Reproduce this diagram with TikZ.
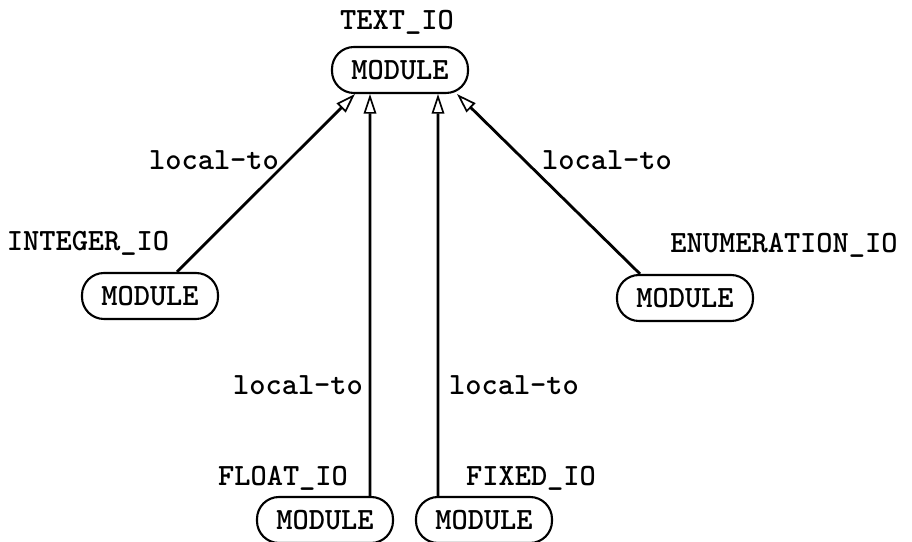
\documentclass[tikz,border=0pt]{standalone}
\usepackage{tikz}
\usetikzlibrary{positioning}
\usetikzlibrary{arrows.meta}

\begin{document}
\begin{tikzpicture}[
  modulo/.style={draw, line width=1.5pt, rounded corners=0.55cm, minimum width=3.4cm, minimum height=1.15cm, inner sep=0pt},
  texto/.style={font=\fontsize{22}{26}\selectfont\ttfamily\bfseries, inner sep=1pt},
  enlace/.style={line width=2pt, -{Triangle[open, length=14pt, width=9pt, line width=1.2pt]}}
]
  \useasboundingbox (0,0) rectangle (22.8,13.55);

  % Módulos
  \node[modulo, texto] (textio) at (10,11.8) {MODULE};
  \node[modulo, texto] (intio) at (3.75,6.15) {MODULE};
  \node[modulo, texto] (enumio) at (17.125,6.1) {MODULE};
  \node[modulo, texto] (floatio) at (8.125,0.55) {MODULE};
  \node[modulo, texto] (fixedio) at (12.1,0.55) {MODULE};

  % Nombres
  \node[texto] (textioname) at (9.925,13.0) {TEXT\_IO};
  \node[texto] (intioname) at (2.2,7.475) {INTEGER\_IO};
  \node[texto] (enumioname) at (19.6,7.425) {ENUMERATION\_IO};
  \node[texto] (floationame) at (7.075,1.6) {FLOAT\_IO};
  \node[texto] (fixedioname) at (13.275,1.6) {FIXED\_IO};

  % Relaciones
  \draw[enlace] ([xshift=0.675cm]intio.north) -- ([xshift=-1.125cm]textio.south);
  \draw[enlace] ([xshift=1.125cm]floatio.north) -- ([xshift=-0.75cm]textio.south);
  \draw[enlace] ([xshift=-1.15cm]fixedio.north) -- ([xshift=0.95cm]textio.south);
  \draw[enlace] ([xshift=-1.125cm]enumio.north) -- ([xshift=1.425cm]textio.south);

  % Etiquetas
  \node[texto] (rel1) at (5.35,9.55) {local-to};
  \node[texto] (rel2) at (15.175,9.55) {local-to};
  \node[texto] (rel3) at (7.45,3.925) {local-to};
  \node[texto] (rel4) at (12.85,3.925) {local-to};

\end{tikzpicture}
\end{document}
